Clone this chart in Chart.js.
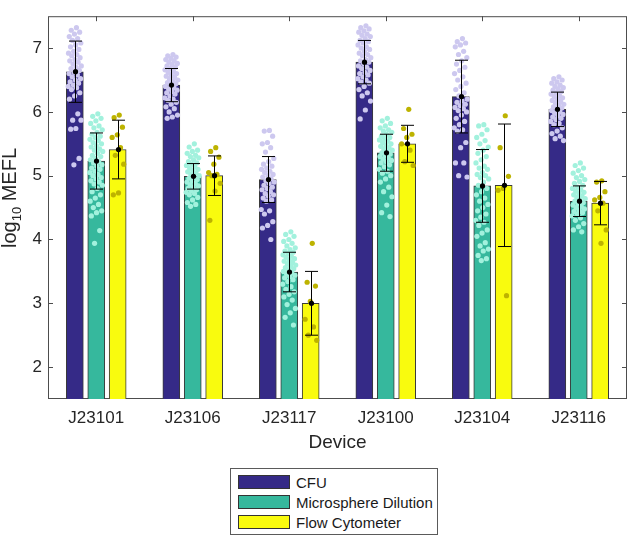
<!DOCTYPE html>
<html>
<head>
<meta charset="utf-8">
<script src="https://cdn.jsdelivr.net/npm/chart.js@4.4.1/dist/chart.umd.min.js"></script>
<style>
    body { margin: 0; background: #fff; font-family: "Liberation Sans", Arial, sans-serif; }
    #wrap { position: relative; width: 631px; height: 536px; }
    #box { position: absolute; left: 0; top: 0; width: 631px; height: 460px; }
    #legend { position: absolute; left: 230px; top: 468px; width: 208px; height: 67px; border: 1px solid #5a5a5a; box-sizing: border-box; }
    .row { position: absolute; left: 7px; height: 14px; display: flex; align-items: center; }
    .sw { width: 52px; height: 14px; border: 1px solid #333; box-sizing: border-box; }
    .lab { margin-left: 6px; font-size: 15px; color: #1a1a1a; white-space: nowrap; }
</style>
</head>
<body>
<div id="wrap">
    <div id="box"><canvas id="deviceChart"></canvas></div>
    <div id="legend"></div>
</div>
<script>
const DEVICES = ['J23101', 'J23106', 'J23117', 'J23100', 'J23104', 'J23116'];
const SERIES = ['CFU', 'Microsphere Dilution', 'Flow Cytometer'];
const Y_TICKS = [2, 3, 4, 5, 6, 7];

const CFU_MEAN = [6.63, 6.42, 4.94, 6.78, 6.24, 6.04];
const CFU_SD = [0.48, 0.26, 0.36, 0.34, 0.57, 0.27];
const MICRO_MEAN = [5.23, 4.99, 3.49, 5.36, 4.84, 4.60];
const MICRO_SD = [0.44, 0.20, 0.31, 0.29, 0.57, 0.24];
const FLOW_MEAN = [5.41, 5.00, 3.00, 5.50, 4.85, 4.57];
const FLOW_SD = [0.46, 0.31, 0.50, 0.29, 0.96, 0.34];

// individual replicates, one list per device
const CFU_POINTS = [
    [7.32, 7.28, 7.25, 7.22, 7.18, 7.15, 7.12, 7.08, 7.05, 7.02, 6.98, 6.95, 6.92, 6.9, 6.88, 6.85, 6.82, 6.8, 6.78, 6.75, 6.72, 6.7, 6.68, 6.65, 6.62, 6.6, 6.58, 6.55, 6.52, 6.5, 6.47, 6.45, 6.42, 6.4, 6.38, 6.35, 6.3, 6.25, 6.2, 5.97, 5.87, 5.87, 5.74, 5.73, 5.27, 5.17],
    [6.9, 6.88, 6.86, 6.84, 6.82, 6.8, 6.78, 6.76, 6.74, 6.72, 6.7, 6.68, 6.66, 6.64, 6.62, 6.6, 6.58, 6.56, 6.54, 6.52, 6.5, 6.48, 6.46, 6.44, 6.42, 6.4, 6.38, 6.36, 6.34, 6.32, 6.3, 6.28, 6.25, 6.22, 6.2, 6.18, 6.15, 6.12, 6.08, 6.05, 6.0, 5.95, 5.92, 5.9],
    [5.71, 5.7, 5.62, 5.52, 5.5, 5.44, 5.37, 5.27, 5.22, 5.18, 5.15, 5.12, 5.1, 5.07, 5.05, 5.02, 5.0, 4.98, 4.95, 4.92, 4.9, 4.88, 4.85, 4.82, 4.8, 4.78, 4.75, 4.72, 4.7, 4.68, 4.65, 4.62, 4.6, 4.47, 4.45, 4.4, 4.28, 4.22, 4.18, 4.0],
    [7.35, 7.32, 7.3, 7.27, 7.25, 7.22, 7.2, 7.18, 7.15, 7.12, 7.1, 7.08, 7.05, 7.02, 7.0, 6.98, 6.95, 6.92, 6.9, 6.88, 6.85, 6.82, 6.8, 6.78, 6.75, 6.72, 6.7, 6.68, 6.65, 6.62, 6.6, 6.58, 6.55, 6.52, 6.5, 6.47, 6.45, 6.4, 6.35, 6.3, 6.25, 6.17, 6.03, 5.89],
    [7.15, 7.1, 7.08, 7.05, 7.02, 6.95, 6.9, 6.85, 6.8, 6.75, 6.7, 6.65, 6.6, 6.55, 6.5, 6.45, 6.4, 6.35, 6.3, 6.25, 6.2, 6.17, 6.15, 6.12, 6.1, 6.07, 6.05, 6.02, 6.0, 5.95, 5.9, 5.85, 5.8, 5.75, 5.72, 5.7, 5.52, 5.44, 5.2, 5.2, 5.0, 4.98],
    [6.55, 6.52, 6.5, 6.47, 6.45, 6.42, 6.4, 6.38, 6.36, 6.34, 6.32, 6.3, 6.28, 6.26, 6.24, 6.22, 6.2, 6.18, 6.16, 6.14, 6.12, 6.1, 6.08, 6.06, 6.04, 6.02, 6.0, 5.98, 5.96, 5.94, 5.92, 5.9, 5.88, 5.85, 5.82, 5.8, 5.75, 5.7, 5.66, 5.62, 5.58, 5.55]
];
const MICRO_POINTS = [
    [5.97, 5.93, 5.9, 5.86, 5.82, 5.78, 5.75, 5.72, 5.68, 5.65, 5.62, 5.6, 5.57, 5.55, 5.52, 5.5, 5.47, 5.45, 5.42, 5.4, 5.38, 5.35, 5.32, 5.3, 5.27, 5.25, 5.22, 5.2, 5.17, 5.15, 5.12, 5.1, 5.07, 5.05, 5.02, 5.0, 4.97, 4.95, 4.92, 4.9, 4.87, 4.85, 4.8, 4.75, 4.7, 4.65, 4.6, 4.55, 4.5, 4.45, 4.42, 4.37, 4.14, 3.94],
    [5.5, 5.45, 5.4, 5.38, 5.35, 5.32, 5.3, 5.28, 5.25, 5.22, 5.2, 5.18, 5.16, 5.14, 5.12, 5.1, 5.08, 5.06, 5.04, 5.02, 5.0, 4.98, 4.96, 4.94, 4.92, 4.9, 4.88, 4.86, 4.84, 4.82, 4.8, 4.78, 4.76, 4.74, 4.72, 4.7, 4.66, 4.62, 4.58, 4.55, 4.52],
    [4.12, 4.08, 4.05, 4.0, 3.97, 3.94, 3.9, 3.87, 3.84, 3.82, 3.8, 3.78, 3.76, 3.74, 3.72, 3.7, 3.68, 3.66, 3.64, 3.62, 3.6, 3.58, 3.56, 3.54, 3.52, 3.5, 3.48, 3.46, 3.44, 3.42, 3.4, 3.37, 3.34, 3.3, 3.26, 3.22, 3.18, 3.14, 3.1, 3.05, 2.98, 2.92, 2.85, 2.78, 2.66],
    [5.9, 5.86, 5.82, 5.78, 5.75, 5.72, 5.7, 5.68, 5.65, 5.62, 5.6, 5.58, 5.56, 5.54, 5.52, 5.5, 5.48, 5.46, 5.44, 5.42, 5.4, 5.38, 5.36, 5.34, 5.32, 5.3, 5.28, 5.26, 5.24, 5.22, 5.2, 5.17, 5.14, 5.1, 5.07, 5.04, 5.0, 4.95, 4.9, 4.82, 4.75, 4.67, 4.54, 4.42, 4.36],
    [5.8, 5.78, 5.72, 5.65, 5.6, 5.55, 5.5, 5.45, 5.4, 5.35, 5.3, 5.25, 5.2, 5.15, 5.12, 5.1, 5.05, 5.02, 5.0, 4.97, 4.95, 4.9, 4.85, 4.8, 4.75, 4.7, 4.65, 4.6, 4.55, 4.5, 4.45, 4.4, 4.35, 4.3, 4.27, 4.22, 4.15, 4.1, 4.05, 3.95, 3.9, 3.85, 3.82, 3.75, 3.7, 3.67],
    [5.2, 5.16, 5.12, 5.08, 5.04, 5.0, 4.97, 4.94, 4.91, 4.88, 4.85, 4.82, 4.8, 4.78, 4.76, 4.74, 4.72, 4.7, 4.68, 4.66, 4.64, 4.62, 4.6, 4.58, 4.56, 4.54, 4.52, 4.5, 4.48, 4.46, 4.44, 4.42, 4.4, 4.37, 4.34, 4.3, 4.25, 4.2, 4.15, 4.12]
];
const FLOW_POINTS = [
    [5.95, 5.91, 5.76, 5.64, 5.6, 5.44, 5.32, 5.18, 4.73, 4.7],
    [5.44, 5.38, 5.29, 5.18, 5.05, 5.02, 5.0, 4.88, 4.76, 4.3],
    [3.94, 3.33, 3.27, 3.03, 2.75, 2.63, 2.5, 2.42],
    [6.04, 5.74, 5.65, 5.6, 5.5, 5.4, 5.22, 5.16],
    [5.94, 5.44, 4.99, 4.8, 4.77, 3.12],
    [4.92, 4.9, 4.75, 4.66, 4.62, 4.57, 4.45, 4.15, 3.94]
];

const FONT = '"Liberation Sans", Arial, sans-serif';
const TEXT = '#262626';
const BAR_COLORS = ['#352a87', '#36b89d', '#f9fb0e'];
const DOT_COLORS = ['#cdc8ef', '#a2f1dd', '#bdb300'];
const GROUP_STEP = 0.222;   // distance between neighbouring bars, in category units

const means = [CFU_MEAN, MICRO_MEAN, FLOW_MEAN];
const sds = [CFU_SD, MICRO_SD, FLOW_SD];
const points = [CFU_POINTS, MICRO_POINTS, FLOW_POINTS];

const shiftOf = (s) => (s - 1) * GROUP_STEP;

// spread the replicates across the bar in a fixed low-discrepancy pattern
function jittered(groups, s) {
    const out = [];
    groups.forEach((vals, g) => {
        vals.forEach((v, j) => {
            const u = ((j + 1) * 0.6180339887) % 1;
            out.push({ x: g + shiftOf(s) + (u - 0.5) * 0.14, y: v });
        });
    });
    return out;
}

const barSets = SERIES.map((name, s) => ({
    type: 'bar',
    label: name,
    data: means[s].map((m, g) => ({ x: g + shiftOf(s), y: m })),
    backgroundColor: BAR_COLORS[s],
    borderColor: '#3a3a3a',
    borderWidth: 1,
    grouped: false,
    barThickness: 17,
    order: 3
}));

const dotSets = SERIES.map((name, s) => ({
    type: 'scatter',
    label: name + ' replicates',
    data: jittered(points[s], s),
    backgroundColor: DOT_COLORS[s],
    borderWidth: 0,
    pointRadius: 2.6,
    order: 1
}));

const frame = {
    id: 'frame',
    beforeDatasetsDraw(chart) {
        const { ctx, chartArea: a, scales } = chart;
        ctx.save();
        ctx.strokeStyle = '#4d4d4d';
        ctx.lineWidth = 1;
        ctx.strokeRect(a.left + 0.5, a.top + 0.5, a.width - 1, a.height - 1);
        ctx.beginPath();
        Y_TICKS.forEach((v) => {
            const py = Math.round(scales.y.getPixelForValue(v)) + 0.5;
            ctx.moveTo(a.left, py); ctx.lineTo(a.left + 5, py);
            ctx.moveTo(a.right - 5, py); ctx.lineTo(a.right, py);
        });
        DEVICES.forEach((d, i) => {
            const px = Math.round(scales.x.getPixelForValue(i)) + 0.5;
            ctx.moveTo(px, a.top); ctx.lineTo(px, a.top + 5);
            ctx.moveTo(px, a.bottom - 5); ctx.lineTo(px, a.bottom);
        });
        ctx.stroke();
        ctx.restore();
    }
};

const errorBars = {
    id: 'errorBars',
    afterDatasetsDraw(chart) {
        const { ctx, scales: { y } } = chart;
        ctx.save();
        ctx.strokeStyle = '#000';
        ctx.fillStyle = '#000';
        ctx.lineWidth = 1;
        for (let s = 0; s < SERIES.length; s++) {
            const meta = chart.getDatasetMeta(s);
            meta.data.forEach((bar, i) => {
                const x = Math.round(bar.x) + 0.5;
                const top = y.getPixelForValue(means[s][i] + sds[s][i]);
                const bot = y.getPixelForValue(means[s][i] - sds[s][i]);
                ctx.beginPath();
                ctx.moveTo(x, top); ctx.lineTo(x, bot);
                ctx.moveTo(x - 6.5, top); ctx.lineTo(x + 6.5, top);
                ctx.moveTo(x - 6.5, bot); ctx.lineTo(x + 6.5, bot);
                ctx.stroke();
                ctx.beginPath();
                ctx.arc(x, y.getPixelForValue(means[s][i]), 2.6, 0, Math.PI * 2);
                ctx.fill();
            });
        }
        ctx.restore();
    }
};

const yTitle = {
    id: 'yTitle',
    afterDraw(chart) {
        const ctx = chart.ctx;
        const big = '20px ' + FONT;
        const small = '13px ' + FONT;
        ctx.save();
        ctx.fillStyle = TEXT;
        ctx.textBaseline = 'alphabetic';
        ctx.font = big;
        const w1 = ctx.measureText('log').width;
        const w3 = ctx.measureText(' MEFL').width;
        ctx.font = small;
        const w2 = ctx.measureText('10').width;
        const total = w1 + w2 + w3;
        ctx.translate(16, 198);
        ctx.rotate(-Math.PI / 2);
        let x = -total / 2;
        ctx.font = big;
        ctx.fillText('log', x, 0);
        x += w1;
        ctx.font = small;
        ctx.fillText('10', x, 5);
        x += w2;
        ctx.font = big;
        ctx.fillText(' MEFL', x, 0);
        ctx.restore();
    }
};

new Chart(document.getElementById('deviceChart'), {
    type: 'bar',
    data: {
        datasets: [...barSets, ...dotSets]
    },
    options: {
        responsive: true,
        maintainAspectRatio: false,
        animation: false,
        layout: { padding: { top: 0, right: 1, left: 0, bottom: 0 } },
        plugins: {
            legend: { display: false },
            tooltip: { enabled: false }
        },
        scales: {
            x: {
                type: 'linear',
                offset: false,
                min: -0.5,
                max: DEVICES.length - 0.5,
                afterBuildTicks(scale) { scale.ticks = DEVICES.map((d, i) => ({ value: i })); },
                grid: { display: false, drawTicks: false },
                border: { display: false },
                ticks: {
                    color: TEXT,
                    font: { family: FONT, size: 17 },
                    padding: 9,
                    autoSkip: false,
                    maxRotation: 0,
                    callback: (v) => DEVICES[v]
                },
                title: { display: true, text: 'Device', color: TEXT, font: { family: FONT, size: 19 }, padding: { top: 0, bottom: 6 } },
                afterFit(scale) { scale.height = 61; }
            },
            y: {
                min: 1.5,
                max: 7.5,
                afterBuildTicks(scale) { scale.ticks = Y_TICKS.map((v) => ({ value: v })); },
                grid: { display: false, drawTicks: false },
                border: { display: false },
                ticks: { color: TEXT, font: { family: FONT, size: 17 }, padding: 6 },
                afterFit(scale) { scale.width = 48; }
            }
        }
    },
    plugins: [frame, errorBars, yTitle]
});

const legend = document.getElementById('legend');
SERIES.forEach((name, s) => {
    const row = document.createElement('div');
    row.className = 'row';
    row.style.top = (6 + s * 20) + 'px';
    row.innerHTML = '<div class="sw" style="background:' + BAR_COLORS[s] + '"></div><span class="lab">' + name + '</span>';
    legend.appendChild(row);
});
</script>
</body>
</html>
